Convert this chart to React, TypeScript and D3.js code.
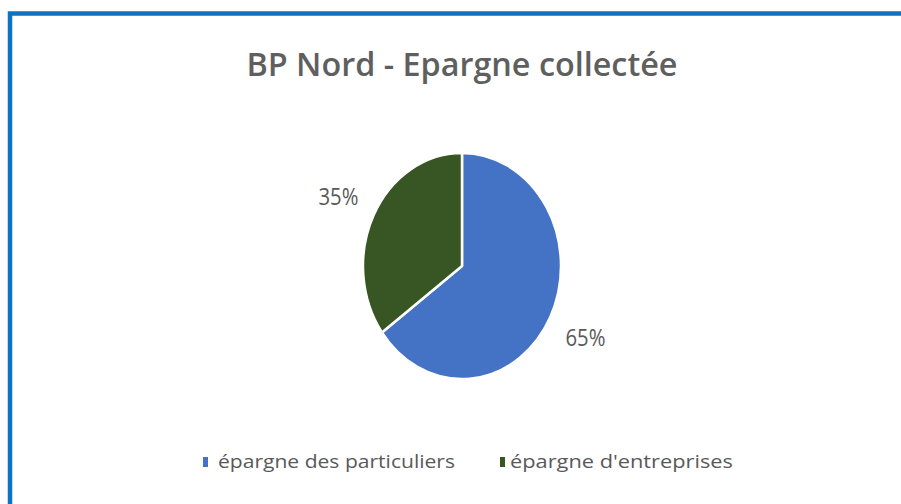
import React from "react";
import * as d3 from "d3";

const TITLE = "BP Nord - Epargne collectée";
const categories = ["épargne des particuliers", "épargne d'entreprises"];
const values = [65, 35];
const colors = ["#4472C4", "#375623"];

const W = 901;
const H = 504;

export default function App() {
  const cx = 462;
  const cy = 266;
  const rx = 99;
  const ry = 113;
  const k = ry / rx;

  const pie = d3
    .pie<number>()
    .sort(null)
    .value((d) => d)
    .startAngle(0)
    .endAngle(2 * Math.PI);
  const arcs = pie(values);
  const arc = d3.arc<d3.PieArcDatum<number>>().innerRadius(0).outerRadius(rx);
  const labelR = rx * 1.4;
  const labelArc = d3.arc<d3.PieArcDatum<number>>().innerRadius(labelR).outerRadius(labelR);

  const total = d3.sum(values);
  const fmt = (v: number) => `${Math.round((v / total) * 100)}%`;

  const legendItems = [
    { x: 203, textX: 218, len: 237 },
    { x: 500, textX: 510, len: 223 },
  ];

  const textColor = "#595959";
  const font = "'Open Sans', 'DejaVu Sans', sans-serif";

  return (
    <svg
      width={W}
      height={H}
      style={{ position: "absolute", left: 0, top: 0, background: "#fff" }}
    >
      <rect x={0} y={0} width={W} height={H} fill="#fff" />
      {/* blue frame */}
      <rect x={10} y={13.5} width={W + 20} height={H + 20} fill="none" stroke="#0B72C6" strokeWidth={4.5} />

      {/* title */}
      <text
        x={246.5}
        y={76}
        fontFamily={font}
        fontSize={33}
        fontWeight={600}
        fill="#5f5f5f"
        textLength={431}
        lengthAdjust="spacingAndGlyphs"
      >
        {TITLE}
      </text>

      {/* pie */}
      <g transform={`translate(${cx},${cy}) scale(1,${k})`}>
        {arcs.map((a, i) => (
          <path
            key={categories[i]}
            d={arc(a) || ""}
            fill={colors[i]}
            stroke="#fff"
            strokeWidth={2.5}
            vectorEffect="non-scaling-stroke"
            strokeLinejoin="round"
          />
        ))}
      </g>

      {/* data labels */}
      {arcs.map((a, i) => {
        const [lx, ly] = labelArc.centroid(a);
        return (
          <text
            key={"l" + i}
            x={cx + lx}
            y={cy + ly * k + (ly < 0 ? 11 : 8)}
            textAnchor="middle"
            fontFamily={font}
            fontSize={23.5}
            fill={textColor}
            textLength={40}
            lengthAdjust="spacingAndGlyphs"
          >
            {fmt(a.data)}
          </text>
        );
      })}

      {/* legend */}
      {categories.map((c, i) => (
        <g key={c}>
          <rect x={legendItems[i].x} y={457} width={5} height={10} fill={colors[i]} />
          <text
            x={legendItems[i].textX}
            y={468}
            fontFamily={font}
            fontSize={19}
            fill={textColor}
            textLength={legendItems[i].len}
            lengthAdjust="spacingAndGlyphs"
          >
            {c}
          </text>
        </g>
      ))}
    </svg>
  );
}
